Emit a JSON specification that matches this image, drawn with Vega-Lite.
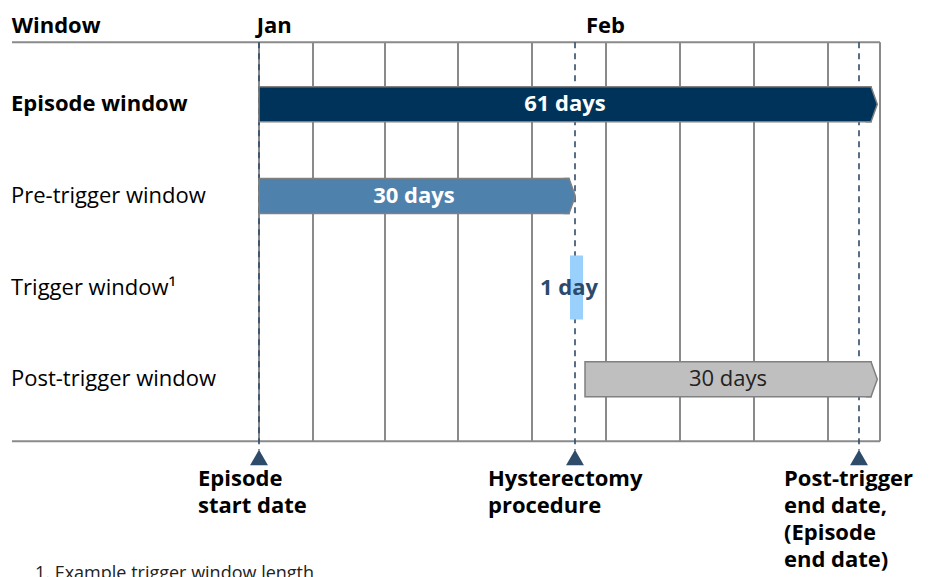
{
  "$schema": "https://vega.github.io/schema/vega-lite/v6.json",
  "width": 930,
  "height": 577,
  "autosize": {"type": "none"},
  "padding": 0,
  "background": "white",
  "config": {"view": {"stroke": null}, "text": {"font": "Open Sans"}},
  "datasets": {
    "windows": [
      {"window": "Episode window", "row": 1, "start": 0, "end": 61.2, "mid": 30.6, "label": "61 days"},
      {"window": "Pre-trigger window", "row": 2, "start": 0, "end": 31.0, "mid": 15.5, "label": "30 days"},
      {"window": "Trigger window¹", "row": 3, "start": 31.1, "end": 32.4, "mid": 31.0, "label": "1 day"},
      {"window": "Post-trigger window", "row": 4, "start": 32.6, "end": 61.2, "mid": 46.9, "label": "30 days"}
    ],
    "grid": [
      {"day": 0}, {"day": 5.4}, {"day": 12.6}, {"day": 19.9}, {"day": 27.3},
      {"day": 34.7}, {"day": 42.1}, {"day": 49.5}, {"day": 56.9}, {"day": 62.1}
    ],
    "hlines": [{"line": "top", "row": 0.325}, {"line": "bottom", "row": 4.676}],
    "events": [
      {"event": "Episode start date", "day": 0, "labelDay": -6.1, "label": ["Episode", "start date"]},
      {"event": "Hysterectomy procedure", "day": 31.6, "labelDay": 22.9, "label": ["Hysterectomy", "procedure"]},
      {"event": "Post-trigger end date", "day": 60.0, "labelDay": 52.5, "label": ["Post-trigger", "end date,", "(Episode", "end date)"]}
    ],
    "header": [
      {"text": "Window", "day": -24.73},
      {"text": "Jan", "day": -0.23},
      {"text": "Feb", "day": 32.7}
    ]
  },
  "layer": [
    {
      "data": {"name": "grid"},
      "mark": {"type": "rule", "color": "#8a8a8a", "strokeWidth": 2},
      "encoding": {
        "x": {"field": "day", "type": "quantitative", "axis": null, "scale": {"domain": [-25.9, 67.1], "nice": false, "zero": false}},
        "y": {"datum": 0.325, "type": "quantitative", "axis": null, "scale": {"domain": [-0.0825, 6.102], "nice": false, "zero": false, "reverse": true}},
        "y2": {"datum": 4.676}
      }
    },
    {
      "data": {"name": "hlines"},
      "mark": {"type": "rule", "color": "#8a8a8a", "strokeWidth": 2},
      "encoding": {
        "x": {"datum": -24.7, "type": "quantitative", "axis": null},
        "x2": {"datum": 62.1},
        "y": {"field": "row", "type": "quantitative", "axis": null}
      }
    },
    {
      "data": {"name": "events"},
      "mark": {"type": "rule", "color": "#2e4b69", "strokeWidth": 1.6, "strokeDash": [6, 5]},
      "encoding": {
        "x": {"field": "day", "type": "quantitative", "axis": null},
        "y": {"datum": 0.325, "type": "quantitative", "axis": null},
        "y2": {"datum": 4.773}
      }
    },
    {
      "data": {"name": "windows"},
      "transform": [{"filter": {"field": "window", "oneOf": ["Episode window", "Pre-trigger window", "Post-trigger window"]}}],
      "mark": {"type": "bar", "height": 35, "stroke": "#808080", "strokeWidth": 1.5},
      "encoding": {
        "x": {"field": "start", "type": "quantitative", "axis": null},
        "x2": {"field": "end"},
        "y": {"field": "row", "type": "quantitative", "axis": null},
        "fill": {"field": "window", "type": "nominal", "legend": null, "scale": {"domain": ["Episode window", "Pre-trigger window", "Trigger window¹", "Post-trigger window"], "range": ["#00335a", "#4f81ad", "#99d0fc", "#bfbfbf"]}}
      }
    },
    {
      "data": {"name": "windows"},
      "transform": [{"filter": {"field": "window", "equal": "Trigger window¹"}}],
      "mark": {"type": "bar", "height": 64},
      "encoding": {
        "x": {"field": "start", "type": "quantitative", "axis": null},
        "x2": {"field": "end"},
        "y": {"field": "row", "type": "quantitative", "axis": null},
        "fill": {"field": "window", "type": "nominal", "legend": null}
      }
    },
    {
      "data": {"name": "windows"},
      "transform": [{"filter": {"field": "window", "oneOf": ["Episode window", "Pre-trigger window", "Post-trigger window"]}}],
      "mark": {"type": "point", "shape": "M-0.3,-1L0,-1L0.36,0L0,1L-0.3,1", "size": 1225, "filled": true, "opacity": 1, "stroke": "#808080", "strokeWidth": 1.5},
      "encoding": {
        "x": {"field": "end", "type": "quantitative", "axis": null},
        "y": {"field": "row", "type": "quantitative", "axis": null},
        "fill": {"field": "window", "type": "nominal", "legend": null}
      }
    },
    {
      "data": {"name": "windows"},
      "transform": [{"filter": {"field": "window", "equal": "Episode window"}}],
      "mark": {"type": "text", "align": "left", "baseline": "middle", "fontSize": 22, "fontWeight": "bold", "color": "#000000"},
      "encoding": {
        "x": {"datum": -24.8, "type": "quantitative", "axis": null},
        "y": {"field": "row", "type": "quantitative", "axis": null},
        "text": {"field": "window"}
      }
    },
    {
      "data": {"name": "windows"},
      "transform": [{"filter": {"field": "window", "oneOf": ["Pre-trigger window", "Trigger window¹", "Post-trigger window"]}}],
      "mark": {"type": "text", "align": "left", "baseline": "middle", "fontSize": 22, "color": "#000000"},
      "encoding": {
        "x": {"datum": -24.8, "type": "quantitative", "axis": null},
        "y": {"field": "row", "type": "quantitative", "axis": null},
        "text": {"field": "window"}
      }
    },
    {
      "data": {"name": "windows"},
      "transform": [{"filter": {"field": "window", "oneOf": ["Episode window", "Pre-trigger window"]}}],
      "mark": {"type": "text", "align": "center", "baseline": "middle", "fontSize": 22, "fontWeight": "bold", "color": "#ffffff"},
      "encoding": {
        "x": {"field": "mid", "type": "quantitative", "axis": null},
        "y": {"field": "row", "type": "quantitative", "axis": null},
        "text": {"field": "label"}
      }
    },
    {
      "data": {"name": "windows"},
      "transform": [{"filter": {"field": "window", "equal": "Trigger window¹"}}],
      "mark": {"type": "text", "align": "center", "baseline": "middle", "fontSize": 22, "fontWeight": "bold", "color": "#2c4a6b"},
      "encoding": {
        "x": {"field": "mid", "type": "quantitative", "axis": null},
        "y": {"field": "row", "type": "quantitative", "axis": null},
        "text": {"field": "label"}
      }
    },
    {
      "data": {"name": "windows"},
      "transform": [{"filter": {"field": "window", "equal": "Post-trigger window"}}],
      "mark": {"type": "text", "align": "center", "baseline": "middle", "fontSize": 22, "color": "#222222"},
      "encoding": {
        "x": {"field": "mid", "type": "quantitative", "axis": null},
        "y": {"field": "row", "type": "quantitative", "axis": null},
        "text": {"field": "label"}
      }
    },
    {
      "data": {"name": "header"},
      "mark": {"type": "text", "align": "left", "baseline": "alphabetic", "fontSize": 22, "fontWeight": "bold", "color": "#000000"},
      "encoding": {
        "x": {"field": "day", "type": "quantitative", "axis": null},
        "y": {"datum": 0.221, "type": "quantitative", "axis": null},
        "text": {"field": "text"}
      }
    },
    {
      "data": {"name": "events"},
      "mark": {"type": "point", "shape": "triangle-up", "size": 320, "filled": true, "opacity": 1, "color": "#2e4b69"},
      "encoding": {
        "x": {"field": "day", "type": "quantitative", "axis": null},
        "y": {"datum": 4.853, "type": "quantitative", "axis": null}
      }
    },
    {
      "data": {"name": "events"},
      "mark": {"type": "text", "align": "left", "baseline": "alphabetic", "fontSize": 22, "fontWeight": "bold", "lineHeight": 27, "color": "#000000"},
      "encoding": {
        "x": {"field": "labelDay", "type": "quantitative", "axis": null},
        "y": {"datum": 5.169, "type": "quantitative", "axis": null},
        "text": {"field": "label"}
      }
    },
    {
      "data": {"values": [{"note": "1. Example trigger window length"}]},
      "mark": {"type": "text", "align": "left", "baseline": "top", "fontSize": 18, "color": "#222222"},
      "encoding": {
        "x": {"datum": -22.4, "type": "quantitative", "axis": null},
        "y": {"datum": 6.03, "type": "quantitative", "axis": null},
        "text": {"field": "note"}
      }
    }
  ]
}
